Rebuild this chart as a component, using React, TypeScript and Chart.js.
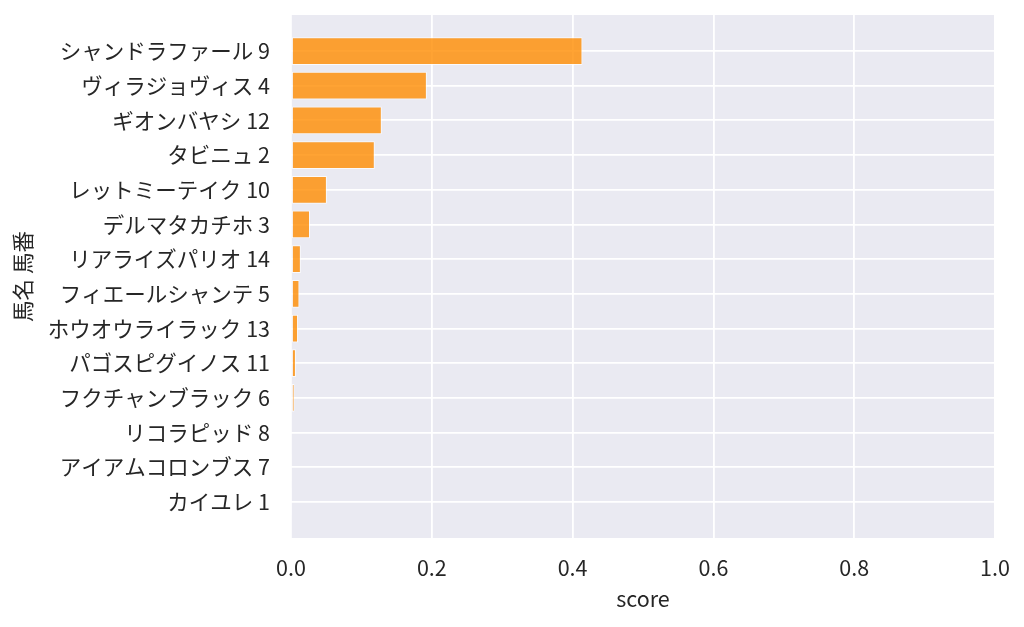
import React, { useEffect, useRef } from "react";
import { Chart, registerables } from "chart.js";

Chart.register(...registerables);

const horseNames = [
  "シャンドラファール",
  "ヴィラジョヴィス",
  "ギオンバヤシ",
  "タビニュ",
  "レットミーテイク",
  "デルマタカチホ",
  "リアライズパリオ",
  "フィエールシャンテ",
  "ホウオウライラック",
  "パゴスピグイノス",
  "フクチャンブラック",
  "リコラピッド",
  "アイアムコロンブス",
  "カイユレ",
];
const horseNumbers = [9, 4, 12, 2, 10, 3, 14, 5, 13, 11, 6, 8, 7, 1];
const scores = [0.414, 0.193, 0.129, 0.119, 0.051, 0.027, 0.014, 0.012, 0.01, 0.007, 0.005, 0.0008, 0.0005, 0.0003];
const xTicks = [0, 0.2, 0.4, 0.6, 0.8, 1.0];
const xTitle = "score";
const yTitle = "馬名 馬番";

const FONT = "'Noto Sans CJK JP', 'Noto Sans', sans-serif";
const TEXT = "#262626";
const FS = 21.5;

const bgPlugin = {
  id: "plotBg",
  beforeDraw(chart: any) {
    const { ctx, chartArea } = chart;
    ctx.save();
    ctx.fillStyle = "#EAEAF2";
    ctx.fillRect(chartArea.left, chartArea.top, chartArea.right - chartArea.left, chartArea.bottom - chartArea.top);
    ctx.restore();
  },
};

export default function App() {
  const ref = useRef<HTMLCanvasElement | null>(null);
  useEffect(() => {
    if (!ref.current) return;
    const labels = horseNames.map((n, i) => `${n} ${horseNumbers[i]}`);
    const chart = new Chart(ref.current, {
      type: "bar",
      data: {
        datasets: [
          {
            data: scores.map((v, i) => ({ x: v, y: i })) as any,
            backgroundColor: "rgba(255,140,0,0.8)",
            borderColor: "rgba(255,255,255,0.75)",
            borderWidth: 1,
            borderSkipped: false,
            categoryPercentage: 1,
            barPercentage: 0.8,
          },
        ],
      },
      options: {
        animation: false,
        responsive: false,
        indexAxis: "y",
        layout: { padding: { top: 15, right: 29, left: 0, bottom: 0 } },
        plugins: { legend: { display: false }, tooltip: { enabled: false } },
        scales: {
          x: {
            type: "linear",
            min: 0,
            max: 1,
            afterBuildTicks: (axis: any) => {
              axis.ticks = xTicks.map((v) => ({ value: v }));
            },
            afterFit: (axis: any) => {
              axis.height = 89;
              axis.paddingLeft = 0;
              axis.paddingRight = 0;
            },
            grid: { color: "#ffffff", lineWidth: 1.8, drawTicks: false },
            border: { display: false },
            ticks: {
              color: TEXT,
              font: { family: FONT, size: FS },
              padding: 17,
              callback: (v: any) => Number(v).toFixed(1),
            },
            title: {
              display: true,
              text: xTitle,
              color: TEXT,
              font: { family: FONT, size: FS },
              padding: { top: 0, bottom: 15 },
            },
          },
          y: {
            type: "linear",
            reverse: true,
            offset: false,
            min: -1.038,
            max: 14.038,
            afterBuildTicks: (axis: any) => {
              axis.ticks = labels.map((_, i) => ({ value: i }));
            },
            afterFit: (axis: any) => {
              axis.width = 291;
              axis.paddingTop = 0;
              axis.paddingBottom = 0;
            },
            grid: { color: "#ffffff", lineWidth: 1.8, drawTicks: false, offset: false },
            border: { display: false },
            ticks: {
              color: TEXT,
              font: { family: FONT, size: FS },
              padding: 21,
              autoSkip: false,
              callback: (v: any) => {
                const i = Math.round(Number(v));
                return labels[i] ?? "";
              },
            },
            title: {
              display: true,
              text: yTitle,
              color: TEXT,
              font: { family: FONT, size: FS },
              padding: { top: 10, bottom: 0 },
            },
          },
        },
      },
      plugins: [bgPlugin],
    } as any);
    return () => chart.destroy();
  }, []);
  return (
    <div style={{ position: "absolute", left: 0, top: 0, width: 1024, height: 627, background: "#fff" }}>
      <canvas ref={ref} width={1024} height={627} style={{ display: "block" }} />
    </div>
  );
}
